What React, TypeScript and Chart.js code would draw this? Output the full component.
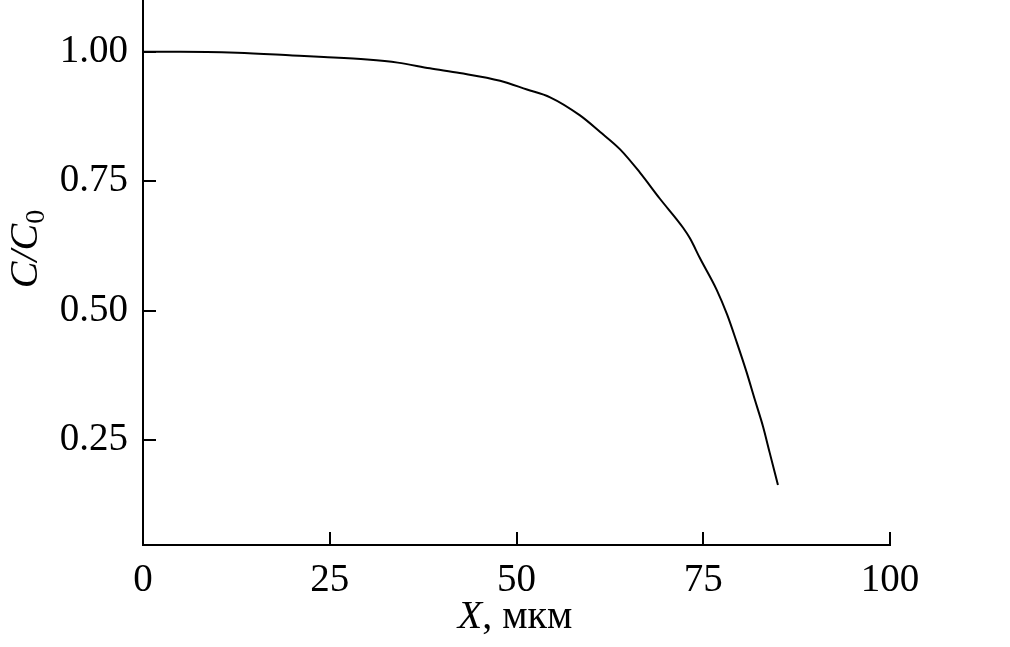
import React, { useEffect, useRef } from "react";
import { Chart, registerables } from "chart.js";

Chart.register(...registerables);

const xValues = [0, 5, 12.6, 20, 24.2, 30, 34.1, 38.4, 42.4, 47.8, 51.4, 54.5, 58.5, 61.2, 63.9, 66.5, 69.2, 72.3, 73.2, 74.6, 76.8, 78.2, 79.5, 80.8, 81.9, 83.0, 83.9, 85.0];
const yValues = [1.0, 1.0, 0.998, 0.993, 0.99, 0.985, 0.979, 0.968, 0.959, 0.944, 0.927, 0.912, 0.877, 0.845, 0.811, 0.767, 0.716, 0.66, 0.64, 0.6, 0.54, 0.492, 0.438, 0.381, 0.328, 0.276, 0.225, 0.163];
const xTicks = [0, 25, 50, 75, 100];
const yTicks = [0.25, 0.5, 0.75, 1.0];

const FONT = "'Liberation Serif', 'Times New Roman', serif";

const decorPlugin = {
  id: "decor",
  afterDraw(chart: any) {
    const ctx = chart.ctx;
    const xs = chart.scales.x;
    const ys = chart.scales.y;
    const area = chart.chartArea;
    ctx.save();
    ctx.strokeStyle = "#000";
    ctx.lineWidth = 2;
    const tl = 13;
    ctx.beginPath();
    for (const v of xTicks) {
      if (v === 0) continue;
      const px = Math.round(xs.getPixelForValue(v));
      ctx.moveTo(px, area.bottom);
      ctx.lineTo(px, area.bottom - tl);
    }
    for (const v of yTicks) {
      const py = Math.round(ys.getPixelForValue(v));
      ctx.moveTo(area.left, py);
      ctx.lineTo(area.left + tl, py);
    }
    ctx.stroke();

    // X title
    ctx.fillStyle = "#000";
    ctx.textBaseline = "alphabetic";
    const f1 = `italic 40px ${FONT}`;
    const f2 = `40px ${FONT}`;
    ctx.font = f1;
    const wX = ctx.measureText("X").width;
    ctx.font = f2;
    const wR = ctx.measureText(", мкм").width;
    const cx = 515;
    const startX = cx - (wX + wR) / 2;
    ctx.font = f1;
    ctx.textAlign = "left";
    ctx.fillText("X", startX, 628);
    ctx.font = f2;
    ctx.fillText(", мкм", startX + wX, 628);

    // Y title
    ctx.translate(37, 249);
    ctx.rotate(-Math.PI / 2);
    ctx.font = f1;
    const wC = ctx.measureText("C/C").width;
    const f3 = `28px ${FONT}`;
    ctx.font = f3;
    const w0 = ctx.measureText("0").width;
    const sx = -(wC + w0) / 2;
    ctx.font = f1;
    ctx.fillText("C/C", sx, 0);
    ctx.font = f3;
    ctx.fillText("0", sx + wC, 7);
    ctx.restore();
  },
};

export default function App() {
  const ref = useRef<HTMLCanvasElement>(null);
  useEffect(() => {
    document.body.style.margin = "0";
    const chart = new Chart(ref.current!, {
      type: "line",
      data: {
        datasets: [
          {
            data: xValues.map((x, i) => ({ x, y: yValues[i] })),
            borderColor: "#000",
            borderWidth: 2,
            pointRadius: 0,
            cubicInterpolationMode: "monotone",
            fill: false,
          },
        ],
      },
      options: {
        responsive: false,
        animation: false,
        layout: { padding: { top: 0, right: 120, left: 0, bottom: 0 } },
        plugins: { legend: { display: false }, tooltip: { enabled: false } },
        scales: {
          x: {
            type: "linear",
            min: 0,
            max: 100,
            afterBuildTicks: (s: any) => {
              s.ticks = xTicks.map((v) => ({ value: v }));
            },
            afterFit: (s: any) => {
              s.height = 102;
              s.paddingLeft = 0;
              s.paddingRight = 0;
            },
            grid: { display: false, drawTicks: false },
            border: { display: true, color: "#000", width: 2 },
            ticks: {
              color: "#000",
              font: { family: FONT, size: 39 },
              padding: 12,
              maxRotation: 0,
              callback: (v: any) => String(v),
            },
          },
          y: {
            type: "linear",
            min: 0.047,
            max: 1.1,
            afterBuildTicks: (s: any) => {
              s.ticks = yTicks.map((v) => ({ value: v }));
            },
            afterFit: (s: any) => {
              s.width = 143;
              s.paddingTop = 0;
              s.paddingBottom = 0;
            },
            grid: { display: false, drawTicks: false },
            border: { display: true, color: "#000", width: 2 },
            ticks: {
              color: "#000",
              font: { family: FONT, size: 39 },
              padding: 15,
              callback: (v: any) => Number(v).toFixed(2),
            },
          },
        },
      },
      plugins: [decorPlugin],
    });
    return () => chart.destroy();
  }, []);
  return <canvas ref={ref} width={1010} height={647} />;
}
